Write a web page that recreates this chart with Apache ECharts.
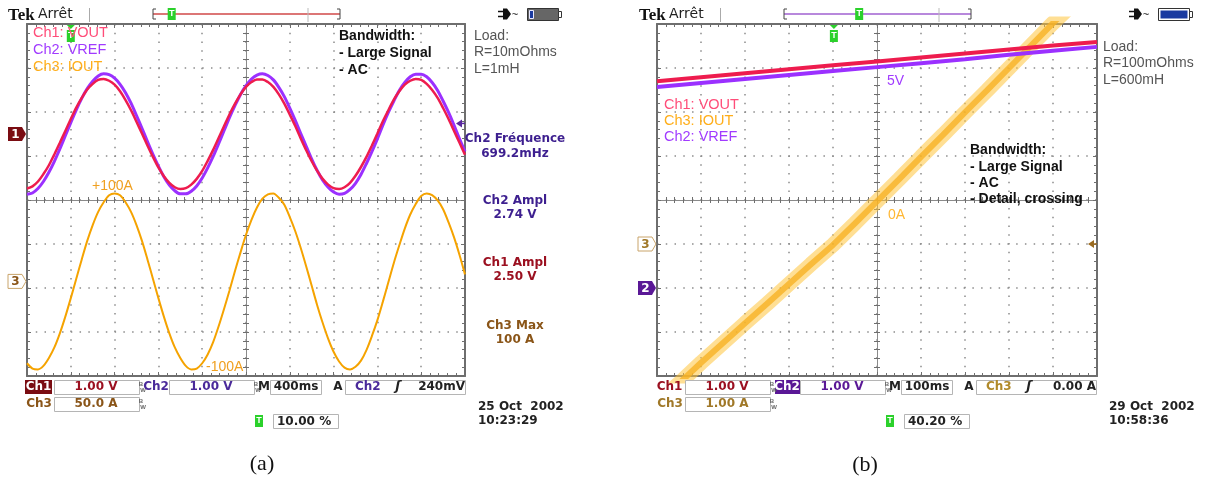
<!DOCTYPE html>
<html>
<head>
<meta charset="utf-8">
<script src="https://cdn.jsdelivr.net/npm/echarts@6/dist/echarts.min.js"></script>
<style>
  html, body { margin: 0; padding: 0; background: #fff; }
  #chart { width: 1205px; height: 483px; }
</style>
</head>
<body>
<div id="chart"></div>
<script>
// ---- panel (a): 400 ms/div, 1 V/div (ch1, ch2), 50 A/div (ch3), samples every 50 ms
const timeA = [0, 0.05, 0.1, 0.15, 0.2, 0.25, 0.3, 0.35, 0.4, 0.45, 0.5, 0.55, 0.6, 0.65, 0.7, 0.75, 0.8, 0.85, 0.9, 0.95,
  1.0, 1.05, 1.1, 1.15, 1.2, 1.25, 1.3, 1.35, 1.4, 1.45, 1.5, 1.55, 1.6, 1.65, 1.7, 1.75, 1.8, 1.85, 1.9, 1.95,
  2.0, 2.05, 2.1, 2.15, 2.2, 2.25, 2.3, 2.35, 2.4, 2.45, 2.5, 2.55, 2.6, 2.65, 2.7, 2.75, 2.8, 2.85, 2.9, 2.95,
  3.0, 3.05, 3.1, 3.15, 3.2, 3.25, 3.3, 3.35, 3.4, 3.45, 3.5, 3.55, 3.6, 3.65, 3.7, 3.75, 3.8, 3.85, 3.9, 3.95, 4.0];
const voutA = [-1.24, -1.19, -1.08, -0.91, -0.71, -0.46, -0.20, 0.07, 0.34, 0.60, 0.82, 1.01, 1.14, 1.23, 1.25, 1.21,
  1.12, 0.97, 0.77, 0.54, 0.28, 0.01, -0.26, -0.52, -0.76, -0.96, -1.11, -1.21, -1.25, -1.23, -1.15, -1.02, -0.84,
  -0.61, -0.36, -0.09, 0.18, 0.45, 0.69, 0.90, 1.07, 1.18, 1.24, 1.24, 1.18, 1.07, 0.90, 0.69, 0.44, 0.18, -0.10,
  -0.37, -0.62, -0.84, -1.02, -1.15, -1.23, -1.25, -1.21, -1.11, -0.95, -0.75, -0.52, -0.26, 0.01, 0.29, 0.54, 0.78,
  0.97, 1.12, 1.21, 1.25, 1.23, 1.14, 1.00, 0.82, 0.59, 0.34, 0.07, -0.20, -0.47];
const vrefA = [-1.37, -1.34, -1.24, -1.08, -0.87, -0.62, -0.34, -0.04, 0.26, 0.55, 0.81, 1.03, 1.20, 1.32, 1.37, 1.35,
  1.27, 1.13, 0.94, 0.70, 0.42, 0.13, -0.17, -0.46, -0.73, -0.97, -1.16, -1.29, -1.36, -1.36, -1.30, -1.18, -1.00,
  -0.77, -0.51, -0.22, 0.08, 0.38, 0.65, 0.90, 1.10, 1.25, 1.34, 1.37, 1.33, 1.23, 1.06, 0.85, 0.59, 0.31, 0.01,
  -0.28, -0.57, -0.83, -1.05, -1.21, -1.32, -1.37, -1.35, -1.26, -1.12, -0.92, -0.67, -0.40, -0.11, 0.20, 0.49, 0.75,
  0.99, 1.17, 1.30, 1.36, 1.36, 1.30, 1.17, 0.99, 0.75, 0.49, 0.20, -0.11, -0.40];
const ioutA = [-93, -99, -100, -96, -87, -75, -59, -40, -19, 3, 25, 46, 64, 79, 90, 98, 100, 98, 90, 79, 64, 46, 25, 3,
  -19, -40, -59, -75, -87, -96, -100, -99, -93, -83, -69, -51, -31, -10, 12, 33, 53, 70, 84, 94, 99, 100, 95, 87, 73,
  57, 38, 17, -5, -27, -47, -65, -80, -91, -98, -100, -97, -90, -78, -62, -44, -23, -1, 21, 41, 60, 76, 88, 97, 100,
  98, 92, 82, 67, 50, 30, 8];

// ---- panel (b): 100 ms/div, 1 V/div (ch1, ch2), 1 A/div (ch3)
const timeB = [0, 0.1, 0.2, 0.3, 0.4, 0.5, 0.6, 0.7, 0.8, 0.9, 1.0];
const voutB = [4.70, 4.79, 4.88, 4.97, 5.06, 5.15, 5.24, 5.33, 5.42, 5.51, 5.59];
const vrefB = [4.57, 4.66, 4.75, 4.84, 4.93, 5.02, 5.11, 5.20, 5.30, 5.39, 5.48];
const timeB3 = [0, 0.05, 0.1, 0.15, 0.2, 0.25, 0.3, 0.35, 0.4, 0.45, 0.5, 0.55, 0.6, 0.65, 0.7, 0.75, 0.8, 0.85, 0.9,
  0.95, 1.0];
const ioutB = [-3.6, -3.17, -2.7, -2.25, -1.8, -1.36, -0.91, -0.46, -0.02, 0.47, 0.97, 1.47, 1.98, 2.48, 2.99, 3.49,
  4.0, 4.51, 5.02, 5.5, 6.0];

// screen ranges per channel (8 divisions tall), trigger position in % of record
const voltRangeA = [-5.5, 2.5];
const ampRangeA = [-107.5, 292.5];
const voltRangeB = [-2, 6];
const ampRangeB = [-3, 5];
const trigPctA = 10.0;
const trigPctB = 40.2;

const chart = echarts.init(document.getElementById('chart'));

const zip = (xs, ys) => xs.map((x, i) => [x, ys[i]]);

const frameColor = '#6e6e6e';
const dotLine = { show: true, lineStyle: { color: '#8c8c8c', width: 1.5, type: [1.5, 7.26] } };
const tickStyle = { color: frameColor, width: 1 };

function xAxesFor(g, tMax, tStep) {
  const yBase = g * 6;
  const frame = (pos, split) => ({
    gridIndex: g, type: 'value', min: 0, max: tMax, interval: tStep, position: pos,
    axisLine: { onZero: false, lineStyle: { color: frameColor, width: 2 } },
    axisTick: { inside: true, length: 4, lineStyle: tickStyle },
    minorTick: { show: true, splitNumber: 5, length: 3, lineStyle: tickStyle },
    axisLabel: { show: false },
    splitLine: split ? dotLine : { show: false }
  });
  const center = inside => ({
    gridIndex: g, type: 'value', min: -5, max: 5, interval: 1, position: 'bottom',
    axisLine: { onZero: true, onZeroAxisIndex: yBase, lineStyle: { color: '#8a8a8a', width: 1 } },
    axisTick: { inside, length: 3, lineStyle: tickStyle },
    minorTick: { show: true, splitNumber: 5, length: 3, lineStyle: tickStyle },
    axisLabel: { show: false },
    splitLine: { show: false }
  });
  return [frame('bottom', true), frame('top', false), center(false), center(true)];
}

function yAxesFor(g, vRange, iRange) {
  const xBase = g * 4;
  const frame = (pos, split) => ({
    gridIndex: g, type: 'value', min: -4, max: 4, interval: 1, position: pos,
    axisLine: { onZero: false, lineStyle: { color: frameColor, width: 2 } },
    axisTick: { inside: true, length: 4, lineStyle: tickStyle },
    minorTick: { show: true, splitNumber: 5, length: 3, lineStyle: tickStyle },
    axisLabel: { show: false },
    splitLine: split ? dotLine : { show: false }
  });
  const center = inside => ({
    gridIndex: g, type: 'value', min: -4, max: 4, interval: 1, position: 'left',
    axisLine: { onZero: true, onZeroAxisIndex: xBase + 2, lineStyle: { color: '#8a8a8a', width: 1 } },
    axisTick: { inside, length: 3, lineStyle: tickStyle },
    minorTick: { show: true, splitNumber: 5, length: 3, lineStyle: tickStyle },
    axisLabel: { show: false },
    splitLine: { show: false }
  });
  return [
    frame('left', true), frame('right', false), center(false), center(true),
    { gridIndex: g, type: 'value', min: vRange[0], max: vRange[1], show: false },
    { gridIndex: g, type: 'value', min: iRange[0], max: iRange[1], show: false }
  ];
}

const trace = (xi, yi, data, color, width, z, opacity, smooth) => ({
  type: 'line', xAxisIndex: xi, yAxisIndex: yi, data, smooth: smooth || false, symbol: 'none', silent: true, z,
  lineStyle: { color, width, opacity: opacity == null ? 1 : opacity }
});

chart.setOption({
  animation: false,
  grid: [
    { left: 27, top: 24, width: 438, height: 352 },
    { left: 657, top: 24, width: 440, height: 352 }
  ],
  xAxis: [...xAxesFor(0, 4, 0.4), ...xAxesFor(1, 1, 0.1)],
  yAxis: [...yAxesFor(0, voltRangeA, ampRangeA), ...yAxesFor(1, voltRangeB, ampRangeB)],
  series: [
    trace(0, 5, zip(timeA, ioutA), '#f5a300', 2, 3, 1, 0.3),
    trace(0, 4, zip(timeA, vrefA), '#9b30ff', 3, 4, 1, 0.3),
    trace(0, 4, zip(timeA, voutA), '#ee1c4e', 2.5, 5, 1, 0.3),
    trace(4, 11, zip(timeB3, ioutB), '#ffc53d', 15, 3, 0.55),
    trace(4, 11, zip(timeB3, ioutB), '#f7b325', 6, 3, 0.8),
    trace(4, 10, zip(timeB, vrefB), '#9b30ff', 4, 4),
    trace(4, 10, zip(timeB, voutB), '#ee1c4e', 4, 5)
  ]
});

// ---------- decorations (scope screen chrome) ----------
const G = [];
const txt = (x, y, text, fill, font, align) => G.push({
  type: 'text', x, y, z: 100, silent: true,
  style: { text, fill, font, textAlign: align || 'left', textVerticalAlign: 'middle' }
});
const rect = (x, y, w, h, fill, stroke) => G.push({
  type: 'rect', z: 90, silent: true, shape: { x, y, width: w, height: h },
  style: { fill: fill || 'none', stroke: stroke || null, lineWidth: 1 }
});
const seg = (x1, y1, x2, y2, stroke, w) => G.push({
  type: 'line', z: 90, silent: true, shape: { x1, y1, x2, y2 }, style: { stroke, lineWidth: w || 1 }
});
const poly = (points, fill, stroke) => G.push({
  type: 'polygon', z: 95, silent: true, shape: { points }, style: { fill, stroke: stroke || null, lineWidth: 1 }
});

const px = (axis, v) => chart.convertToPixel({ xAxisIndex: axis }, v);
const py = (axis, v) => chart.convertToPixel({ yAxisIndex: axis }, v);

const sans = '"Liberation Sans", Arial, sans-serif';
const scopeFont = 'bold 12px "DejaVu Sans", Verdana, sans-serif';

function tIcon(x, y) {
  rect(x - 4, y - 6, 8, 12, '#2bd12b');
  txt(x, y, 'T', '#fff', 'bold 9px ' + sans, 'center');
}

function header(ox, barColor, trigPct, batteryFull) {
  txt(8 + ox, 16, 'Tek', '#111', 'bold 17px "Liberation Serif", serif');
  txt(38 + ox, 14, 'Arrêt', '#222', '14px "DejaVu Sans", sans-serif');
  seg(89.5 + ox, 8, 89.5 + ox, 22, '#aaa', 1);
  const b0 = 153 + ox, b1 = 340 + ox;
  seg(b0, 14, b1, 14, barColor, 1.5);
  seg(b0, 9, b0, 19, '#444', 1); seg(b0, 9, b0 + 3, 9, '#444', 1); seg(b0, 19, b0 + 3, 19, '#444', 1);
  seg(b1, 9, b1, 19, '#444', 1); seg(b1, 9, b1 - 3, 9, '#444', 1); seg(b1, 19, b1 - 3, 19, '#444', 1);
  seg(308 + ox, 8, 308 + ox, 22, '#bbb', 1);
  tIcon(b0 + (b1 - b0) * trigPct / 100, 14);
  // plug
  seg(498 + ox, 11.5, 504 + ox, 11.5, '#111', 1.5);
  seg(498 + ox, 16.5, 504 + ox, 16.5, '#111', 1.5);
  poly([[503 + ox, 8.5], [507 + ox, 8.5], [511 + ox, 14], [507 + ox, 19.5], [503 + ox, 19.5]], '#111');
  txt(515 + ox, 15, '~', '#111', '11px ' + sans, 'center');
  // battery
  rect(527.5 + ox, 8.5, 31, 12, batteryFull ? '#fff' : '#666', '#333');
  rect(558.5 + ox, 11.5, 3, 6, '#fff', '#333');
  if (batteryFull) rect(529.5 + ox, 10.5, 27, 8, '#1a3aa0');
  else rect(529.5 + ox, 10.5, 4, 8, '#1a3aa0', '#e8e8ff');
}

function chanMarker(x, y, label, fill, stroke, color) {
  poly([[x, y - 7], [x + 14, y - 7], [x + 18, y], [x + 14, y + 7], [x, y + 7]], fill, stroke);
  txt(x + 7.5, y + 0.5, label, color, 'bold 12px "DejaVu Sans", sans-serif', 'center');
}

function levelArrow(x, y, color) {
  poly([[x, y], [x + 6, y - 4], [x + 6, y + 4]], color);
  seg(x + 5, y, x + 9, y, color, 1.5);
}

function trigMarker(x) {
  poly([[x - 4, 25], [x + 4, 25], [x, 29]], '#2bd12b');
  tIcon(x, 36);
}

function bw(x, y) {
  txt(x, y - 3, 'B', '#666', 'bold 6px ' + sans, 'center');
  txt(x + 2, y + 3, 'W', '#666', 'bold 6px ' + sans, 'center');
}

function statusBar(ox, c) {
  const y1 = 387, y2 = 404;
  if (c.ch1Fill) { rect(25 + ox, 380, 27, 14, c.ch1Fill); txt(38.5 + ox, y1, 'Ch1', '#fff', scopeFont, 'center'); }
  else txt(38.5 + ox, y1, 'Ch1', c.ch1Color, scopeFont, 'center');
  rect(54.5 + ox, 380.5, 85, 14, '#fff', '#b5b5b5');
  txt(96 + ox, y1, c.ch1Scale, c.ch1Color, scopeFont, 'center');
  bw(141 + ox, y1);
  if (c.ch2Fill) { rect(144 + ox, 380, 25, 14, c.ch2Fill); txt(156 + ox, y1, 'Ch2', '#fff', scopeFont, 'center'); }
  else txt(156 + ox, y1, 'Ch2', c.ch2Color, scopeFont, 'center');
  rect(169.5 + ox, 380.5, 85, 14, '#fff', '#b5b5b5');
  txt(211 + ox, y1, c.ch2Scale, c.ch2Color, scopeFont, 'center');
  bw(256 + ox, y1);
  txt(264 + ox, y1, 'M', '#222', scopeFont, 'center');
  rect(270.5 + ox, 380.5, 51, 14, '#fff', '#b5b5b5');
  txt(296 + ox, y1, c.timebase, '#222', scopeFont, 'center');
  txt(338 + ox, y1, 'A', '#222', scopeFont, 'center');
  rect(345.5 + ox, 380.5, 120, 14, '#fff', '#b5b5b5');
  txt(355 + ox, y1, c.trigSrc, c.trigColor, scopeFont, 'left');
  txt(398 + ox, y1, 'ʃ', '#222', 'bold italic 13px "DejaVu Sans", sans-serif', 'center');
  txt(465 + ox, y1, c.trigLevel, '#222', scopeFont, 'right');
  txt(39 + ox, y2, 'Ch3', c.ch3Color, scopeFont, 'center');
  rect(54.5 + ox, 397.5, 85, 14, '#fff', '#b5b5b5');
  txt(96 + ox, y2, c.ch3Scale, c.ch3Color, scopeFont, 'center');
  bw(141 + ox, y2);
  tIcon(259 + ox, 421);
  rect(273.5 + ox, 414.5, 65, 14, '#fff', '#b5b5b5');
  txt(277 + ox, 421.5, c.trigPct, '#222', scopeFont, 'left');
  txt(478 + ox, 407, c.date, '#222', scopeFont, 'left');
  txt(478 + ox, 421, c.clock, '#222', scopeFont, 'left');
}

// ---- panel (a)
header(0, '#d04848', trigPctA, false);
trigMarker(px(0, 4 * trigPctA / 100));
txt(33, 33, 'Ch1: VOUT', '#ff4d79', '14.5px ' + sans);
txt(33, 50, 'Ch2: VREF', '#a13bff', '14.5px ' + sans);
txt(33, 67, 'Ch3: IOUT', '#ffae1a', '14.5px ' + sans);
txt(339, 36, 'Bandwidth:', '#111', 'bold 14px ' + sans);
txt(339, 53, '- Large Signal', '#111', 'bold 14px ' + sans);
txt(339, 70, '- AC', '#111', 'bold 14px ' + sans);
txt(474, 36, 'Load:', '#555', '14px ' + sans);
txt(474, 52, 'R=10mOhms', '#555', '14px ' + sans);
txt(474, 69, 'L=1mH', '#555', '14px ' + sans);
txt(92, 186, '+100A', '#f0a020', '14px ' + sans);
txt(206, 367, '-100A', '#f0a020', '14px ' + sans);
chanMarker(8, py(4, 0), '1', '#7a0c12', null, '#fff');
chanMarker(8, py(5, 0), '3', '#fff', '#c9a46a', '#8a5518');
levelArrow(456, py(4, 0.24), '#5a2aa0');
txt(515, 139, 'Ch2 Fréquence', '#3d1f8f', scopeFont, 'center');
txt(515, 154, '699.2mHz', '#3d1f8f', scopeFont, 'center');
txt(515, 201, 'Ch2 Ampl', '#3d1f8f', scopeFont, 'center');
txt(515, 215, '2.74 V', '#3d1f8f', scopeFont, 'center');
txt(515, 263, 'Ch1 Ampl', '#9b1020', scopeFont, 'center');
txt(515, 277, '2.50 V', '#9b1020', scopeFont, 'center');
txt(515, 326, 'Ch3 Max', '#8a5518', scopeFont, 'center');
txt(515, 340, '100 A', '#8a5518', scopeFont, 'center');
statusBar(0, {
  ch1Fill: '#7a0c12', ch1Color: '#9b1020', ch1Scale: '1.00 V',
  ch2Fill: null, ch2Color: '#4a2a9a', ch2Scale: '1.00 V',
  timebase: '400ms', trigSrc: 'Ch2', trigColor: '#4a2a9a', trigLevel: '240mV',
  ch3Color: '#8a5518', ch3Scale: '50.0 A', trigPct: '10.00 %',
  date: '25 Oct  2002', clock: '10:23:29'
});
txt(262, 464, '(a)', '#111', '22px "Liberation Serif", serif', 'center');

// ---- panel (b)
header(631, '#a060d0', trigPctB, true);
trigMarker(px(4, trigPctB / 100));
txt(664, 105, 'Ch1: VOUT', '#ff4d79', '14.5px ' + sans);
txt(664, 121, 'Ch3: IOUT', '#ffae1a', '14.5px ' + sans);
txt(664, 137, 'Ch2: VREF', '#a13bff', '14.5px ' + sans);
txt(887, 81, '5V', '#a13bff', '14px ' + sans);
txt(888, 215, '0A', '#ffb733', '14px ' + sans);
txt(970, 150, 'Bandwidth:', '#111', 'bold 14px ' + sans);
txt(970, 167, '- Large Signal', '#111', 'bold 14px ' + sans);
txt(970, 183, '- AC', '#111', 'bold 14px ' + sans);
txt(970, 199, '- Detail, crossing', '#111', 'bold 14px ' + sans);
txt(1103, 47, 'Load:', '#555', '14px ' + sans);
txt(1103, 63, 'R=100mOhms', '#555', '14px ' + sans);
txt(1103, 80, 'L=600mH', '#555', '14px ' + sans);
chanMarker(638, py(11, 0), '3', '#fff', '#c9a46a', '#a07828');
chanMarker(638, py(10, 0), '2', '#5a1896', null, '#fff');
levelArrow(1088, py(11, 0), '#9a6a20');
statusBar(631, {
  ch1Fill: null, ch1Color: '#9b1020', ch1Scale: '1.00 V',
  ch2Fill: '#5a1896', ch2Color: '#5a1896', ch2Scale: '1.00 V',
  timebase: '100ms', trigSrc: 'Ch3', trigColor: '#b08a2a', trigLevel: '0.00 A',
  ch3Color: '#a07828', ch3Scale: '1.00 A', trigPct: '40.20 %',
  date: '29 Oct  2002', clock: '10:58:36'
});
txt(865, 465, '(b)', '#111', '22px "Liberation Serif", serif', 'center');

chart.setOption({ graphic: G });
</script>
</body>
</html>
